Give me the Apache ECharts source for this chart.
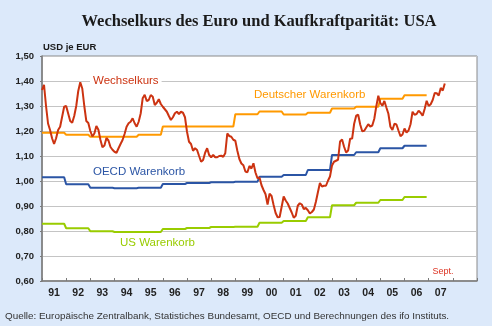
<!DOCTYPE html>
<html><head><meta charset="utf-8">
<script src="https://cdn.jsdelivr.net/npm/echarts@6/dist/echarts.min.js"></script>
<style>html,body{margin:0;padding:0;background:#dce9fa;}#c{width:492px;height:326px;}</style>
</head><body><div id="c"></div>
<script>
// ---------- data ----------
const startYear = 1991;            // monthly series starts Jan 1991
const basketYears = [1991,1992,1993,1994,1995,1996,1997,1998,1999,2000,2001,2002,2003,2004,2005,2006];
const deutscherWarenkorb = [1.193,1.185,1.177,1.177,1.185,1.218,1.218,1.218,1.267,1.278,1.266,1.273,1.290,1.297,1.329,1.343];
const oecdWarenkorb      = [1.015,0.987,0.973,0.971,0.973,0.988,0.992,0.995,0.997,1.017,1.024,1.044,1.104,1.115,1.131,1.141];
const usWarenkorb        = [0.829,0.811,0.799,0.796,0.796,0.808,0.812,0.816,0.817,0.833,0.840,0.855,0.903,0.913,0.924,0.936];
// Wechselkurs, monthly Jan 1991 - Sep 2007
const wechselkurs = [
 1.364,1.385,1.300,1.230,1.204,1.171,1.148,1.171,1.204,1.217,1.257,1.297,
 1.300,1.270,1.240,1.233,1.260,1.300,1.360,1.395,1.370,1.300,1.240,1.232,
 1.200,1.178,1.190,1.220,1.205,1.165,1.135,1.142,1.172,1.162,1.136,1.125,
 1.117,1.113,1.131,1.148,1.164,1.188,1.217,1.231,1.237,1.251,1.231,1.217,
 1.237,1.270,1.331,1.345,1.320,1.324,1.344,1.337,1.304,1.313,1.327,1.308,
 1.297,1.287,1.277,1.260,1.244,1.255,1.271,1.277,1.268,1.277,1.273,1.255,
 1.197,1.157,1.148,1.121,1.131,1.124,1.100,1.077,1.084,1.113,1.131,1.104,
 1.095,1.104,1.095,1.095,1.100,1.101,1.097,1.111,1.190,1.180,1.177,1.165,
 1.161,1.121,1.088,1.070,1.063,1.038,1.035,1.060,1.050,1.071,1.034,1.011,
 1.014,0.983,0.964,0.947,0.906,0.949,0.940,0.904,0.872,0.855,0.856,0.897,
 0.938,0.922,0.910,0.892,0.874,0.853,0.861,0.901,0.911,0.906,0.888,0.892,
 0.883,0.870,0.876,0.886,0.917,0.955,0.992,0.978,0.981,0.981,1.001,1.018,
 1.062,1.077,1.081,1.085,1.158,1.166,1.137,1.114,1.122,1.169,1.170,1.229,
 1.261,1.265,1.226,1.199,1.201,1.214,1.227,1.218,1.222,1.249,1.299,1.341,
 1.312,1.301,1.320,1.294,1.269,1.217,1.204,1.229,1.226,1.202,1.179,1.186,
 1.210,1.194,1.202,1.227,1.277,1.265,1.268,1.281,1.273,1.261,1.288,1.321,
 1.300,1.307,1.324,1.352,1.351,1.342,1.372,1.362,1.390
];
const yTicks = {min:0.6, max:1.5, interval:0.1};
const xTicks = {min:1991, max:2009, interval:1, lastLabel:2007};

// ---------- build tables ----------
const redData = wechselkurs.map((v,i)=>[startYear + i/12, v]);
function basket(vals){
  const out = [];
  basketYears.forEach((y,i)=>{ out.push([y, vals[i]]); out.push([y + 11/12, vals[i]]); });
  return out;
}
const FONT = 'Arial, "Liberation Sans", sans-serif';

const chart = echarts.init(document.getElementById('c'), null, {renderer:'canvas'});
chart.setOption({
  animation:false,
  backgroundColor:'#dce9fa',
  grid:{left:42, right:15, top:56, bottom:45, show:true, backgroundColor:'#ffffff', borderColor:'#8a8a8a', borderWidth:1},
  xAxis:{
    type:'value', min:xTicks.min, max:xTicks.max, interval:xTicks.interval,
    axisLine:{show:true, lineStyle:{color:'#7a7a7a', width:1.5}},
    axisTick:{show:true, inside:true, length:3, lineStyle:{color:'#7a7a7a'}},
    splitLine:{show:false},
    axisLabel:{
      margin:7, padding:[0,0,0,24], color:'#222', fontFamily:FONT, fontWeight:'bold', fontSize:10.5,
      showMinLabel:true, showMaxLabel:true, hideOverlap:false,
      formatter:v=> v<=xTicks.lastLabel ? String(v%100).padStart(2,'0') : ''
    }
  },
  yAxis:{
    type:'value', min:yTicks.min, max:yTicks.max, interval:yTicks.interval,
    axisLine:{show:true, lineStyle:{color:'#7a7a7a', width:1.5}},
    axisTick:{show:true, inside:false, length:2, lineStyle:{color:'#7a7a7a'}},
    splitLine:{show:true, lineStyle:{color:'#c4c4c4', width:1}},
    axisLabel:{margin:8, color:'#222', fontFamily:FONT, fontWeight:'bold', fontSize:9.5,
      formatter:v=>v.toFixed(2).replace('.',',')}
  },
  series:[
    {type:'line', name:'Deutscher Warenkorb', data:basket(deutscherWarenkorb), symbol:'none', lineStyle:{color:'#ff9900', width:2}},
    {type:'line', name:'OECD Warenkorb', data:basket(oecdWarenkorb), symbol:'none', lineStyle:{color:'#2b55a5', width:2}},
    {type:'line', name:'US Warenkorb', data:basket(usWarenkorb), symbol:'none', lineStyle:{color:'#99cc00', width:2}},
    {type:'line', name:'Wechselkurs', data:redData, symbol:'none', lineStyle:{color:'#cc3311', width:2}}
  ],
  graphic:[
    {type:'text', x:259, y:22, style:{text:'Wechselkurs des Euro und Kaufkraftparität: USA', fill:'#1a1a1a',
      font:'bold 16.5px "Liberation Serif", "Times New Roman", serif', align:'center', verticalAlign:'middle'}},
    {type:'text', x:43, y:47, style:{text:'USD je EUR', fill:'#1a1a1a', font:'bold 9.5px '+FONT, align:'left', verticalAlign:'middle'}},
    {type:'text', x:90, y:80.5, z:10, style:{text:'Wechselkurs', fill:'#cc3311', font:'11.5px '+FONT, align:'left', verticalAlign:'middle', backgroundColor:'#ffffff', padding:[1,3]}},
    {type:'text', x:251, y:95, z:10, style:{text:'Deutscher Warenkorb', fill:'#ff9900', font:'11.5px '+FONT, align:'left', verticalAlign:'middle', backgroundColor:'#ffffff', padding:[1,3]}},
    {type:'text', x:90, y:171.5, z:10, style:{text:'OECD Warenkorb', fill:'#2b55a5', font:'11.5px '+FONT, align:'left', verticalAlign:'middle', backgroundColor:'#ffffff', padding:[1,3]}},
    {type:'text', x:117, y:243, z:10, style:{text:'US Warenkorb', fill:'#99cc00', font:'11.5px '+FONT, align:'left', verticalAlign:'middle', backgroundColor:'#ffffff', padding:[1,3]}},
    {type:'text', x:443, y:272, z:10, style:{text:'Sept.', fill:'#dd3322', font:'9px '+FONT, align:'center', verticalAlign:'middle'}},
    {type:'text', x:5, y:316.5, style:{text:'Quelle: Europäische Zentralbank, Statistiches Bundesamt, OECD und Berechnungen des ifo Instituts.', fill:'#333333', font:'9.9px '+FONT, align:'left', verticalAlign:'middle'}}
  ]
});
</script>
</body></html>
